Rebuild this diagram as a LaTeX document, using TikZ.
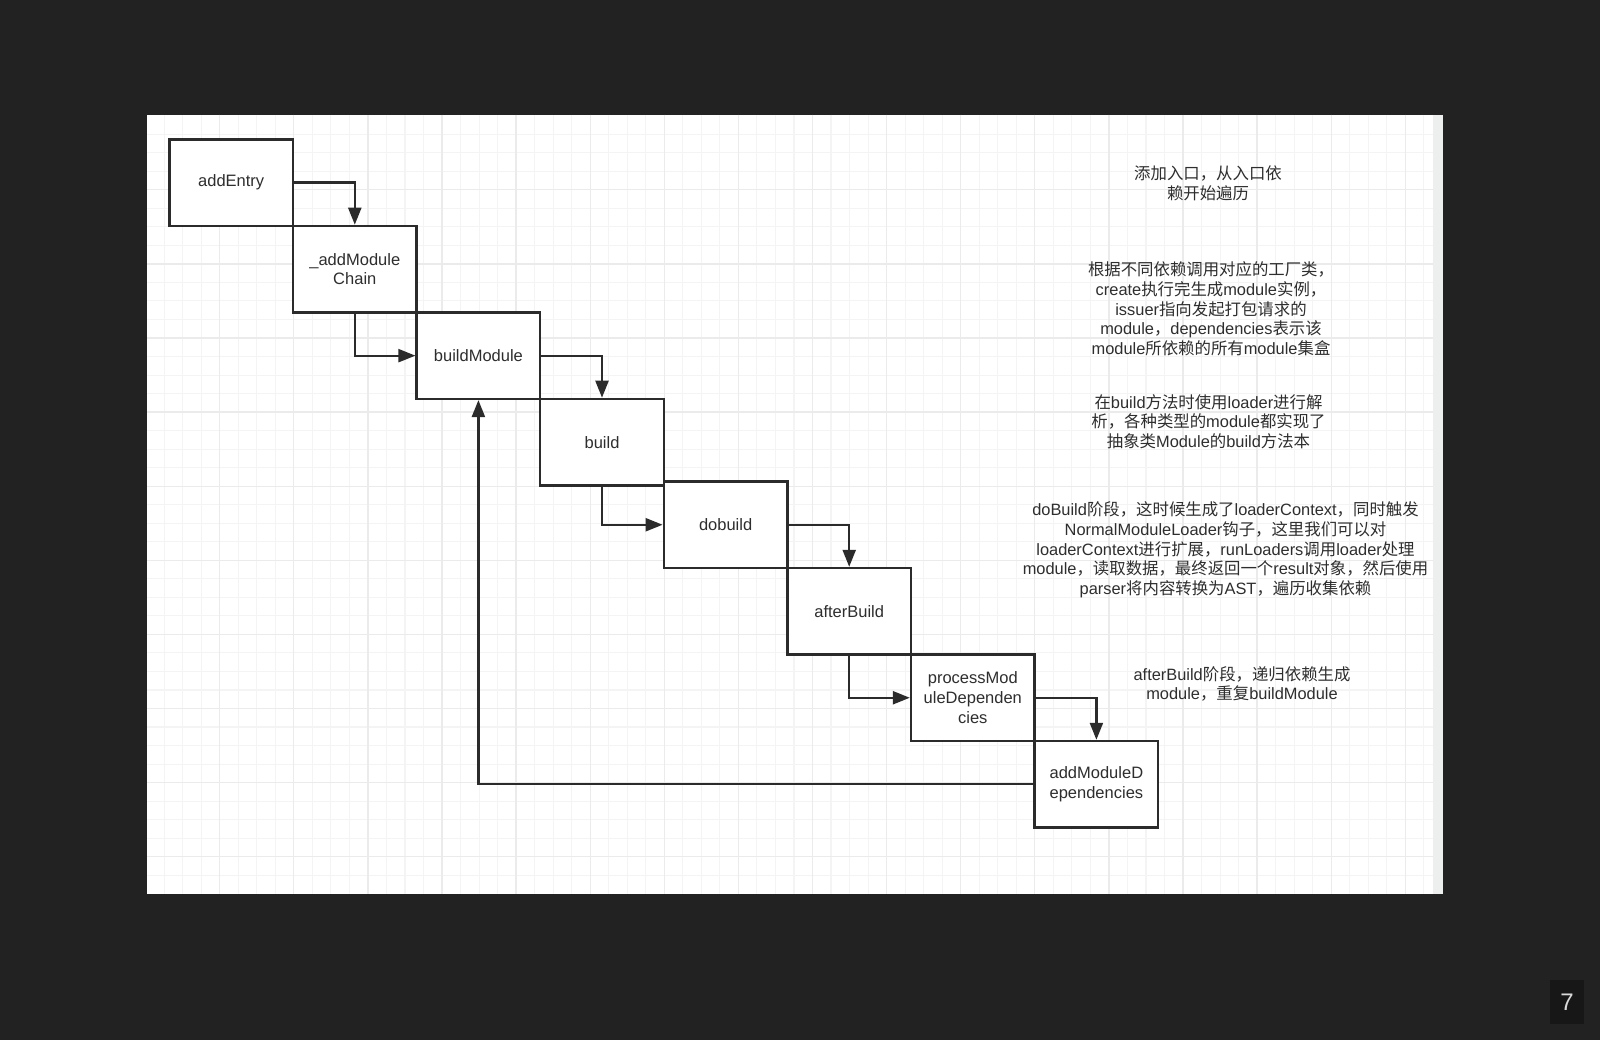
\documentclass[tikz,border=0pt]{standalone}
\usepackage{fontspec}
\setmainfont{Liberation Sans}
\newfontfamily\cjk{Noto Sans CJK SC}
\usetikzlibrary{arrows.meta}
\newcommand\zh[1]{{\cjk #1}}
\definecolor{bg}{HTML}{222222}
\definecolor{badge}{HTML}{171717}
\definecolor{ink}{HTML}{2B2B2B}
\definecolor{txt}{HTML}{2E2E2E}
\definecolor{gminor}{HTML}{F4F4F4}
\definecolor{gmajor}{HTML}{EBEBEB}
\definecolor{strip}{HTML}{EDEFEE}
\begin{document}
\begin{tikzpicture}[x=1pt,y=-1pt,
  box/.style={draw=ink, fill=white, line width=2.4pt, minimum width=123.6pt, minimum height=86.5pt,
    inner sep=0pt, align=center, text=txt, font=\fontsize{16.5}{19.8}\selectfont},
  conn/.style={draw=ink, line width=2.3pt, -{Triangle[length=17pt,width=13pt]}},
  note/.style={align=center, text=txt, inner sep=0pt, font=\fontsize{16.4}{19.7}\selectfont},
  minorline/.style={draw=gminor, line width=1.1pt},
  majorline/.style={draw=gmajor, line width=1.3pt}]
\useasboundingbox (0,0) rectangle (1600,1040);
\fill[bg] (0,0) rectangle (1600,1040);
% panel
\fill[white] (147,115) rectangle (1433,894);
\fill[strip] (1433,115) rectangle (1443,894);
% grid
\foreach \i in {1,...,69} {
  \pgfmathsetmacro\gx{145.6+18.525*\i}
  \draw[minorline] (\gx,115) -- (\gx,894);
}
\foreach \j in {1,...,41} {
  \pgfmathsetmacro\gy{115.7+18.525*\j}
  \draw[minorline] (147,\gy) -- (1433,\gy);
}
\foreach \i in {4,8,...,68} {
  \pgfmathsetmacro\gx{145.6+18.525*\i}
  \draw[majorline] (\gx,115) -- (\gx,894);
}
\foreach \j in {4,8,...,40} {
  \pgfmathsetmacro\gy{115.7+18.525*\j}
  \draw[majorline] (147,\gy) -- (1433,\gy);
}
% boxes
\node[box] (ae)  at (231.2,182.65) {addEntry};
\node[box] (amc) at (354.8,269.15) {\_addModule\\Chain};
\node[box] (bm)  at (478.4,355.65) {buildModule};
\node[box] (b)   at (602.0,442.15) {build};
\node[box] (db)  at (725.6,524.75) {dobuild};
\node[box] (ab)  at (849.2,611.25) {afterBuild};
\node[box] (pmd) at (972.8,697.75) {processMod\\uleDependen\\cies};
\node[box] (amd) at (1096.4,784.25) {addModuleD\\ependencies};
% connectors
\draw[conn] (ae.east) -| (amc.north);
\draw[conn] (amc.south) |- (bm.west);
\draw[conn] (bm.east) -| (b.north);
\draw[conn] (b.south) |- (db.west);
\draw[conn] (db.east) -| (ab.north);
\draw[conn] (ab.south) |- (pmd.west);
\draw[conn] (pmd.east) -| (amd.north);
\draw[conn] (amd.west) -| (bm.south);
% notes
\node[note] (n1) at (1208,183.5) {\zh{添加入口，从入口依}\\\zh{赖开始遍历}};
\node[note] (n2) at (1211,309) {\zh{根据不同依赖调用对应的工厂类，}\\
create\zh{执行完生成}module\zh{实例，}\\
issuer\zh{指向发起打包请求的}\\
module\zh{，}dependencies\zh{表示该}\\
module\zh{所依赖的所有}module\zh{集盒}};
\node[note] (n3) at (1208.5,421.7) {\zh{在}build\zh{方法时使用}loader\zh{进行解}\\
\zh{析，各种类型的}module\zh{都实现了}\\
\zh{抽象类}Module\zh{的}build\zh{方法本}};
\node[note] (n4) at (1225.5,549.8) {doBuild\zh{阶段，这时候生成了}loaderContext\zh{，同时触发}\\
NormalModuleLoader\zh{钩子，这里我们可以对}\\
loaderContext\zh{进行扩展，}runLoaders\zh{调用}loader\zh{处理}\\
module\zh{，读取数据，最终返回一个}result\zh{对象，然后使用}\\
parser\zh{将内容转换为}AST\zh{，遍历收集依赖}};
\node[note] (n5) at (1242,684) {afterBuild\zh{阶段，递归依赖生成}\\module\zh{，重复}buildModule};
% page badge
\node[fill=badge, minimum width=34pt, minimum height=44pt, inner sep=0pt, text=white!85!black,
  font=\fontsize{24}{24}\selectfont] (pg) at (1567,1002) {7};
\end{tikzpicture}
\end{document}
